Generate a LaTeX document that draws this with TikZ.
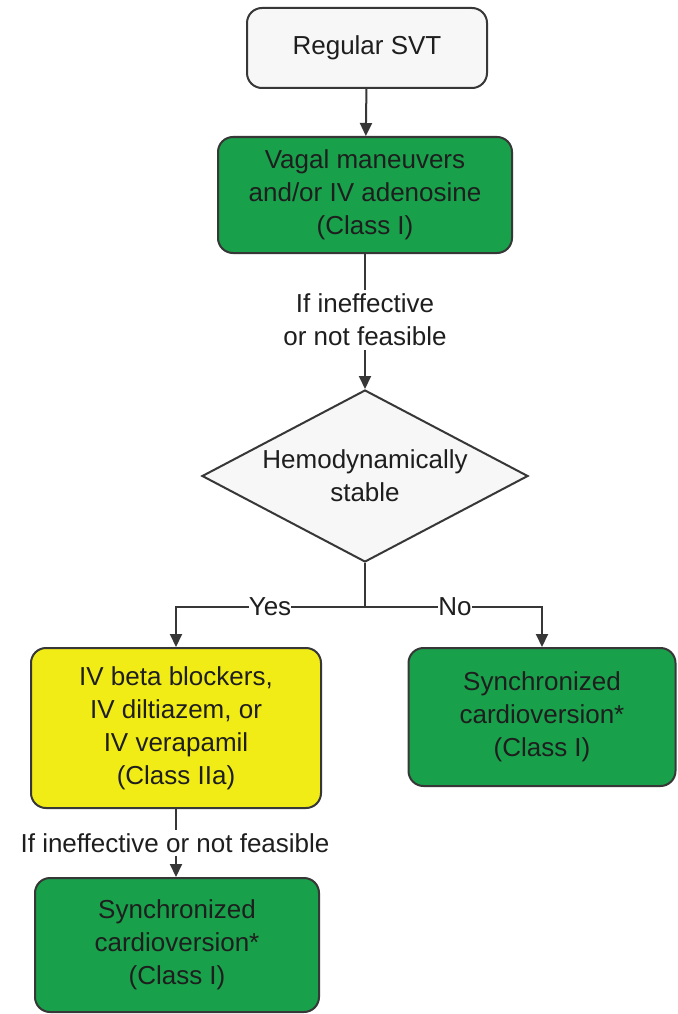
\documentclass[tikz,border=0pt]{standalone}
\usepackage{fontspec}
\setmainfont{Liberation Sans}
\usetikzlibrary{shapes.geometric,arrows.meta}
\definecolor{boxgreen}{RGB}{24,160,74}
\definecolor{boxyellow}{RGB}{242,236,22}
\definecolor{lightfill}{RGB}{247,247,247}
\definecolor{linec}{RGB}{55,55,55}
\definecolor{textc}{RGB}{30,30,30}
\begin{document}
\begin{tikzpicture}[x=1pt,y=-1pt,
  txt/.style={text=textc, font=\fontsize{26}{33}\selectfont, align=center},
  box/.style={txt, draw=linec, line width=2pt, rounded corners=15pt, inner sep=0pt},
  conn/.style={draw=linec, line width=2pt},
  arr/.style={conn, -{Triangle[length=13pt,width=12pt]}},
  lbl/.style={txt, fill=white, inner xsep=0pt, inner ysep=1pt}
]
\useasboundingbox[fill=white] (0,0) rectangle (677,1014);

\node[box, fill=lightfill, minimum width=240pt, minimum height=80pt] (svt) at (367,48) {Regular SVT};
\node[box, fill=boxgreen, minimum width=294pt, minimum height=116pt] (vagal) at (365,195) {Vagal maneuvers\\and/or IV adenosine\\(Class I)};
\node[txt, inner sep=4pt] (if1) at (365,320) {If ineffective\\or not feasible};
\node[txt, diamond, draw=linec, line width=2pt, fill=lightfill, shape aspect=1.9, inner sep=0pt,
      minimum width=326pt, minimum height=172pt] (dia) at (365,476) {Hemodynamically\\stable};
\coordinate (branch) at (365,607);
\node[box, fill=boxyellow, minimum width=290pt, minimum height=160pt] (yes) at (176,728) {IV beta blockers,\\IV diltiazem, or\\IV verapamil\\(Class IIa)};
\node[box, fill=boxgreen, minimum width=267pt, minimum height=138pt] (no) at (542,717) {Synchronized\\cardioversion*\\(Class I)};
\node[txt, inner sep=3pt] (if2) at (175,843) {If ineffective or not feasible};
\node[box, fill=boxgreen, minimum width=284pt, minimum height=134pt] (final) at (177,945) {Synchronized\\cardioversion*\\(Class I)};

\draw[arr] (svt) -- (vagal);
\draw[conn] (vagal.south) -- (if1.north);
\draw[arr] (if1.south) -- (dia.north);
\draw[conn] (dia.south) -- (branch);
\draw[arr] (branch) -| (yes.north) node[lbl, at start, xshift=-95pt] (ylab) {Yes};
\draw[arr] (branch) -| (no.north) node[lbl, at start, xshift=90pt] (nlab) {No};
\draw[conn] (yes.south) -- (yes.south |- if2.north);
\draw[arr] (yes.south |- if2.south) -- (final.north -| yes.south);
\end{tikzpicture}
\end{document}
